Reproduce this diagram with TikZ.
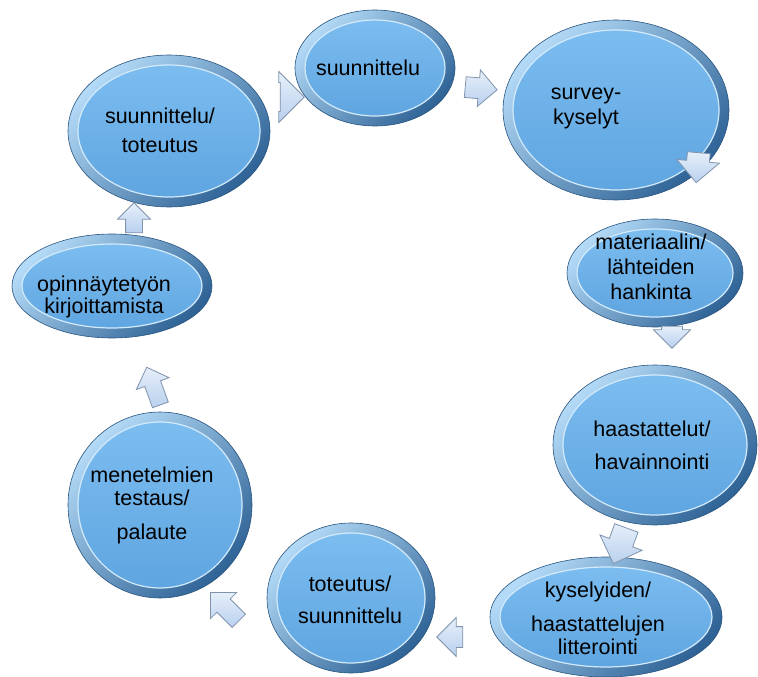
\documentclass[tikz,border=0pt]{standalone}
\usepackage{fontspec}
\setmainfont{Liberation Sans}
\usetikzlibrary{shapes.arrows}
\definecolor{ringlight}{HTML}{B3DAF7}
\definecolor{ringdark}{HTML}{2F6396}
\definecolor{ringedge}{HTML}{28547E}
\definecolor{innertop}{HTML}{7CBDF0}
\definecolor{innerbot}{HTML}{5FA5E0}
\definecolor{rimline}{HTML}{D2EAFB}
\definecolor{arrowfill}{HTML}{B9D0EE}
\definecolor{arrowtop}{HTML}{E6EFFA}
\definecolor{arrowline}{HTML}{7F93AD}
\tikzset{
  ringshade/.style={top color=ringlight, bottom color=ringdark, shading angle=45, draw=ringedge, line width=0.6pt},
  innershade/.style={top color=innertop, bottom color=innerbot},
  rim/.style={draw=rimline, line width=1.2pt},
  bubtext/.style={align=center, text=black, font=\fontsize{21.5}{25}\selectfont, inner sep=0pt},
  barrow/.style={single arrow, draw=arrowline, line width=0.8pt, top color=arrowtop, bottom color=arrowfill,
    inner xsep=0pt, single arrow head indent=0pt}
}
\newcommand\bub[8]{%
  \shade[ringshade] (#2,#3) ellipse [x radius=#4pt, y radius=#5pt];
  \shade[innershade] (#2,#3) ellipse [x radius=#4pt-10pt, y radius=#5pt-10pt];
  \draw[rim] (#2,#3) ellipse [x radius=#4pt-10pt, y radius=#5pt-10pt];
  \node[bubtext] (#1) at (#6,#7) {#8};
}
\begin{document}
\begin{tikzpicture}[x=1pt,y=-1pt]
\useasboundingbox (0,0) rectangle (758,677);
\bub{st}{169}{131}{101}{76}{160}{130}{suunnittelu/\\[4pt]toteutus}
\bub{s}{375}{68}{80}{58}{368}{68}{suunnittelu}
\bub{sk}{616}{110}{113}{90}{586}{108}{survey-\\kyselyt}
\bub{ml}{655}{273}{88}{54}{651}{267}{materiaalin/\\lähteiden\\hankinta}
\bub{hh}{655}{445}{102}{80}{652}{445}{haastattelut/\\[8pt]havainnointi}
\bub{kh}{606}{617}{116}{60}{598}{618}{kyselyiden/\\[9pt]haastattelujen\\[-2pt]litterointi}
\bub{ts}{351}{598}{84}{75}{350}{600}{toteutus/\\[7pt]suunnittelu}
\bub{mt}{160}{505}{92}{93}{152}{505}{menetelmien\\[-2pt]testaus/\\[9pt]palaute}
\bub{ok}{112}{286}{100}{52}{104}{297}{opinnäytetyön\\[-3pt]kirjoittamista}
\node[barrow, rotate=90, minimum height=30pt, inner ysep=8pt, single arrow head extend=8pt] (a1) at (134,222) {};
\node[barrow, rotate=0, minimum height=24pt, inner ysep=14pt, single arrow head extend=11pt] (a2) at (285,97) {};
\node[barrow, rotate=-5, minimum height=32pt, inner ysep=10pt, single arrow head extend=8pt] (a3) at (476,88) {};
\node[barrow, rotate=-95, minimum height=30pt, inner ysep=11pt, single arrow head extend=10pt] (a4) at (698,162) {};
\node[barrow, rotate=-90, minimum height=22pt, inner ysep=10pt, single arrow head extend=8pt] (a5) at (672,332) {};
\node[barrow, rotate=-110, minimum height=38pt, inner ysep=12pt, single arrow head extend=10pt] (a6) at (622,540) {};
\node[barrow, rotate=180, minimum height=26pt, inner ysep=10pt, single arrow head extend=9pt] (a7) at (455,637) {};
\node[barrow, rotate=135, minimum height=40pt, inner ysep=9pt, single arrow head extend=9pt] (a8) at (228,610) {};
\node[barrow, rotate=110, minimum height=40pt, inner ysep=8pt, single arrow head extend=9pt] (a9) at (155,390) {};
\end{tikzpicture}
\end{document}
